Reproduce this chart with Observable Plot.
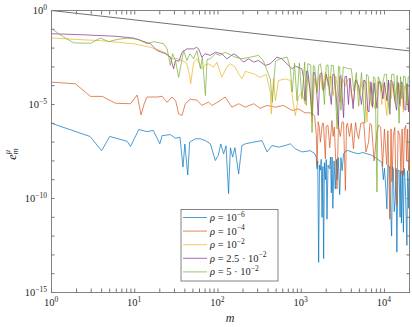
<!DOCTYPE html>
<html><head><meta charset="utf-8">
<script src="https://cdn.jsdelivr.net/npm/d3@7"></script>
<script src="https://cdn.jsdelivr.net/npm/@observablehq/plot@0.6"></script>
<style>body{margin:0;background:#fff}svg{display:block}</style>
</head><body><div id="chart"></div>
<script>
// ---- data: [m, e] pairs ----
const rho1e6 = [[1,1.0e-6],[2.9,2.0e-7],[4,3.5e-8],[5,2.0e-7],[8.1,1.1e-7],[8.9,5.9e-8],[11.2,4.7e-7],[14,3.6e-7],[16.7,4.2e-7],[20,8.1e-8],[21.3,2.2e-7],[26.8,2.5e-7],[30.8,1.6e-7],[35,1.8e-7],[38,4.7e-9],[40,7.9e-8],[43.3,1.8e-9],[45.7,1.0e-7],[53.5,1.5e-7],[61.5,1.5e-7],[70.6,1.2e-7],[81,8.1e-8],[93,1.05e-8],[101,2.0e-8],[108,7.9e-8],[117,2.4e-8],[125,6.3e-8],[134,1.8e-10],[141,5.0e-8],[150,1.6e-8],[160,5.0e-8],[177,2.0e-9],[194,6.6e-8],[213,8.1e-8],[269,1.0e-7],[338,1.2e-7],[389,3.0e-8],[445,6.6e-8],[535,5.4e-8],[645,6.6e-8],[740,8.1e-8],[850,4.4e-8],[1020,3.0e-8],[1285,3.5e-8],[1450,2.5e-8],[1520,1.5e-8],[1550,3.8e-9],[1580,1.0e-8],[1620,4.0e-14],[1660,6.0e-9],[1700,3.2e-9],[1740,1.2e-8],[1780,1.0e-11],[1820,5.0e-9],[1860,6.3e-14],[1900,8.0e-9],[1950,1.0e-9],[2000,1.2e-8],[2040,7.9e-12],[2100,6.0e-9],[2200,3.8e-9],[2250,1.6e-8],[2300,2.0e-10],[2350,1.6e-8],[2400,3.0e-11],[2480,1.0e-8],[2566,3.2e-10],[2650,1.2e-8],[2700,1.0e-9],[2780,1.5e-8],[2900,1.6e-10],[3000,1.5e-8],[3100,3.0e-9],[3230,2.4e-8],[3450,3.5e-8],[3700,3.5e-8],[4200,2.8e-8],[4890,2.4e-8],[5500,2.8e-8],[6170,2.4e-8],[7000,2.0e-8],[8130,1.3e-8],[8800,1.0e-8],[9330,8.5e-9],[9700,1.0e-9],[10000,4.0e-9],[10400,3.0e-10],[10700,2.8e-11],[11000,6.0e-9],[11500,5.0e-9],[11800,5.0e-11],[12200,1.0e-12],[12500,5.0e-9],[12800,3.8e-9],[13100,2.0e-11],[13500,1.0e-10],[13800,4.0e-9],[14100,1.4e-13],[14500,3.0e-9],[15000,3.2e-9],[15400,1.0e-11],[15700,3.0e-9],[16000,5.0e-12],[16400,3.0e-9],[16900,1.6e-12],[17200,4.0e-9],[17500,2.5e-9],[18000,1.0e-10],[18600,3.2e-13],[19000,3.0e-9],[19300,1.0e-9],[19600,3.0e-11],[20000,3.2e-9]];
const rho1e4 = [[1,1.55e-4],[1.94,1.26e-4],[2.94,2.7e-5],[4.06,2.7e-5],[5.87,1.17e-5],[8.9,1.1e-5],[10.7,3.2e-5],[11.9,2.8e-6],[13,1.1e-5],[14,2.5e-5],[18.6,2.5e-5],[21.3,2.75e-5],[24.5,1.3e-5],[28,2.5e-5],[31,1.6e-5],[33.7,3.2e-6],[37,2.6e-6],[40.5,1.1e-5],[46.5,1.9e-5],[56,1.7e-5],[64,8.9e-6],[77,1.35e-5],[85,8.9e-6],[106,1.6e-5],[122,2.5e-5],[147,7.2e-6],[177,1.1e-5],[213,7.2e-6],[269,1.1e-5],[320,6.3e-6],[389,8.9e-6],[490,7.2e-6],[610,8.9e-6],[780,4.8e-6],[925,5.9e-6],[1110,3.6e-6],[1285,3.6e-6],[1400,3.0e-6],[1450,2.5e-6],[1520,2.2e-7],[1550,5.8e-9],[1600,1.2e-6],[1650,6.3e-7],[1700,1.0e-7],[1750,3.4e-7],[1800,1.0e-6],[1850,1.0e-6],[1950,1.3e-8],[2000,7.0e-7],[2100,7.6e-7],[2200,5.0e-8],[2340,1.4e-6],[2420,2.0e-7],[2500,6.3e-7],[2600,1.0e-8],[2690,3.2e-10],[2800,7.9e-7],[2950,2.0e-7],[3100,1.2e-6],[3230,1.1e-6],[3300,3.0e-8],[3400,2.7e-10],[3500,8.0e-7],[3600,1.0e-6],[3800,2.0e-7],[4000,1.0e-6],[4240,4.4e-8],[4500,1.1e-6],[4700,3.0e-7],[4890,1.5e-7],[5200,1.0e-6],[5630,1.1e-6],[6000,3.0e-8],[6450,1.0e-7],[6700,1.0e-6],[7000,7.9e-7],[7500,1.0e-8],[8130,3.4e-7],[8500,8.0e-7],[9000,6.3e-7],[9500,5.0e-9],[10000,5.0e-7],[10400,3.0e-8],[10700,6.3e-9],[11000,4.0e-7],[11300,3.0e-9],[11600,7.9e-12],[12000,5.0e-7],[12300,7.9e-10],[12800,2.2e-7],[13300,6.0e-7],[13700,1.0e-9],[14100,4.3e-11],[14600,4.0e-7],[15300,2.2e-7],[15800,2.0e-9],[16300,5.0e-7],[16900,1.7e-9],[17400,5.0e-7],[18000,7.6e-7],[18500,1.0e-8],[19000,5.0e-7],[19500,3.0e-9],[20000,1.0e-7]];
const rho1e2 = [[1,0.035],[1.94,0.029],[3.87,0.025],[9.7,0.017],[15.4,0.011],[20.3,7.4e-3],[24.5,5.0e-3],[28,2.7e-3],[32,2.8e-3],[37,2.2e-3],[42,1.6e-3],[45.7,3.5e-4],[47,1.26e-4],[51,1.8e-3],[56,2.7e-3],[64,7.9e-4],[70,1.26e-3],[77,1.45e-3],[88.6,9.8e-4],[97,1.8e-3],[111,2.8e-4],[128,9.8e-4],[141,1.45e-3],[160,1.0e-3],[177,4.3e-4],[194,2.3e-4],[213,5.8e-4],[269,4.3e-4],[320,2.8e-4],[380,4.0e-4],[425,4.6e-5],[437,3.2e-6],[465,2.5e-4],[490,1.6e-5],[535,1.9e-4],[645,2.3e-4],[740,1.9e-4],[810,8.9e-6],[850,2.6e-6],[925,2.5e-5],[1020,4.6e-5],[1110,1.1e-5],[1200,3.2e-4],[1280,5.0e-5],[1350,1.15e-6],[1450,2.5e-4],[1550,4.0e-5],[1620,3.0e-4],[1700,3.5e-4],[1800,6.0e-5],[1950,5.2e-4],[2100,1.0e-4],[2200,3.2e-4],[2300,3.0e-4],[2420,3.0e-5],[2600,3.2e-4],[2750,6.0e-5],[2930,1.3e-5],[3100,2.5e-4],[3400,1.0e-4],[3600,2.0e-4],[3800,2.5e-4],[4000,3.0e-5],[4240,1.3e-5],[4500,2.0e-4],[4700,2.0e-4],[5000,3.0e-5],[5340,1.26e-4],[5700,2.0e-4],[6170,1.15e-6],[6500,1.6e-4],[6800,1.6e-4],[7200,2.0e-5],[7730,5.9e-6],[8200,1.6e-4],[8800,1.6e-4],[9300,1.0e-5],[9800,1.3e-4],[10300,1.0e-5],[10700,2.6e-6],[11100,1.3e-4],[11500,1.26e-4],[12000,2.0e-5],[12600,1.3e-4],[13400,2.0e-5],[14200,1.0e-4],[15000,1.26e-4],[15500,8.0e-6],[16000,1.0e-4],[16900,3.9e-6],[17500,1.0e-4],[18600,5.0e-5],[19300,5.0e-6],[20000,3.2e-5]];
const rho25e3 = [[1,0.058],[2.44,0.051],[6.15,0.042],[9.7,0.034],[15.4,0.017],[18.6,7.4e-3],[23.4,5.0e-3],[26.8,3.3e-3],[29.3,7.9e-4],[30.8,2.2e-3],[34,2.0e-3],[37,6.0e-3],[42.4,9.1e-3],[51,9.1e-3],[55,0.011],[58.6,9.1e-3],[64,3.3e-3],[70,5.0e-3],[81,4.1e-3],[93,6.0e-3],[111,5.0e-3],[128,2.7e-3],[155,5.0e-3],[177,3.3e-3],[203,1.8e-3],[233,2.7e-3],[269,1.8e-3],[306,2.2e-3],[370,1.2e-3],[425,1.45e-3],[510,3.3e-3],[585,2.7e-3],[675,1.45e-3],[780,7.9e-4],[850,1.1e-3],[1020,7.9e-4],[1060,3.0e-4],[1110,1.6e-5],[1160,6.0e-4],[1200,6.3e-4],[1280,5.0e-5],[1350,2.5e-6],[1400,5.0e-4],[1450,5.0e-4],[1520,1.0e-4],[1600,2.6e-6],[1680,4.0e-4],[1750,5.0e-4],[1850,5.0e-5],[2000,4.0e-4],[2150,1.0e-4],[2300,1.0e-5],[2400,4.0e-4],[2500,4.0e-4],[2650,2.0e-5],[2800,7.9e-7],[2900,3.0e-4],[3000,3.5e-4],[3100,3.0e-5],[3230,2.0e-6],[3350,3.0e-4],[3500,3.2e-4],[3700,1.0e-5],[3850,2.5e-4],[4000,6.3e-5],[4200,6.0e-6],[4500,2.0e-4],[4900,1.0e-4],[5300,1.0e-5],[5700,2.0e-4],[6000,1.6e-4],[6300,5.0e-6],[6500,4.0e-6],[6900,1.5e-4],[7200,7.0e-6],[7500,1.4e-4],[8130,6.3e-6],[8500,1.5e-4],[9000,1.6e-4],[9600,2.0e-5],[10000,1.5e-4],[10700,1.6e-5],[11200,2.0e-4],[11600,3.0e-6],[12000,2.0e-4],[12600,1.5e-4],[13200,2.0e-5],[14000,5.0e-6],[14600,1.5e-4],[15200,1.0e-5],[16000,1.6e-4],[16600,1.2e-4],[17200,6.0e-6],[18000,5.0e-6],[18600,1.3e-4],[19000,1.0e-4],[19500,4.0e-6],[20000,5.0e-5]];
const rho5e2 = [[1,0.107],[1.41,0.038],[1.85,0.019],[2.94,0.018],[3.87,0.034],[4.87,0.022],[6.15,0.029],[8.1,0.034],[11.2,0.029],[14,0.017],[16.9,0.022],[22.3,0.017],[24.5,9.1e-3],[26.8,1.2e-3],[28.5,5.0e-3],[30.8,2.2e-3],[33.7,2.8e-4],[38.7,7.4e-3],[42.4,2.2e-3],[46,5.0e-3],[51,2.7e-3],[56,7.4e-3],[61.5,7.9e-4],[65,3.2e-3],[70.6,3.0e-5],[74,2.5e-3],[81,2.7e-3],[93,5.0e-3],[106,4.1e-3],[122,6.0e-3],[162,3.3e-3],[194,2.7e-3],[245,3.3e-3],[306,4.1e-3],[350,2.2e-3],[425,2.3e-4],[450,1.3e-5],[490,2.0e-3],[560,2.7e-3],[680,3.3e-3],[740,7.9e-4],[780,4.6e-5],[830,1.6e-3],[890,1.6e-5],[950,1.6e-3],[1020,2.0e-5],[1100,1.8e-3],[1150,8.9e-6],[1200,1.5e-3],[1300,1.26e-3],[1350,3.2e-7],[1400,1.2e-3],[1450,1.0e-3],[1550,5.0e-5],[1620,1.2e-3],[1700,1.45e-3],[1800,3.0e-4],[1900,1.0e-5],[2000,1.2e-3],[2100,1.26e-3],[2180,3.0e-5],[2300,1.2e-3],[2420,1.2e-3],[2550,1.0e-4],[2700,5.0e-7],[2800,1.1e-3],[2900,1.0e-3],[3000,5.0e-6],[3200,1.0e-3],[3400,9.0e-4],[3700,8.0e-4],[4000,7.9e-4],[4300,5.0e-5],[4600,5.0e-4],[4900,8.0e-6],[5300,5.0e-4],[5800,1.0e-6],[6100,4.0e-4],[6400,3.2e-4],[6700,3.0e-5],[7000,8.9e-6],[7400,3.0e-4],[7730,2.5e-4],[8130,2.2e-10],[8400,3.0e-4],[8600,2.5e-4],[9200,5.0e-5],[10000,4.0e-4],[10600,4.0e-4],[11000,2.0e-5],[11500,3.2e-6],[12200,4.0e-4],[13000,4.0e-4],[13600,1.0e-5],[14200,3.5e-4],[15000,1.0e-6],[15600,3.0e-4],[16200,2.0e-5],[17000,3.2e-4],[17800,3.0e-4],[18600,1.0e-5],[19300,3.0e-4],[20000,2.8e-4]];
const refLine = [[1,1],[20000,7.07e-3]];

const seriesData = [rho1e6, rho1e4, rho1e2, rho25e3, rho5e2];
const seriesColors = ["#0072BD","#D95319","#EDB120","#7E2F8E","#77AC30"];
const legendPrefix = ["ρ", "ρ", "ρ", "ρ", "ρ"];
const legendMantissa = ["10", "10", "10", "2.5 · 10", "5 · 10"];
const legendExponent = ["−6", "−4", "−2", "−2", "−2"];

const xMajor = [1, 10, 100, 1000, 10000];
const xMajorExp = ["0", "1", "2", "3", "4"];
const xTicks = [1,2,3,4,5,6,7,8,9,10,20,30,40,50,60,70,80,90,100,200,300,400,500,600,700,800,900,1000,2000,3000,4000,5000,6000,7000,8000,9000,10000,20000];
const yTicks = [1e-15,1e-14,1e-13,1e-12,1e-11,1e-10,1e-9,1e-8,1e-7,1e-6,1e-5,1e-4,1e-3,1e-2,1e-1,1];
const yMajor = [1, 1e-5, 1e-10, 1e-15];
const yMajorExp = ["0", "−5", "−10", "−15"];

const FONT = "'Liberation Serif','Times New Roman',serif";
const AX = "#777";

const lineMarks = seriesData.map((d, i) => Plot.line(d, {x: r => r[0], y: r => r[1], stroke: seriesColors[i], strokeWidth: 0.7, clip: true}));

const chart = Plot.plot({
  width: 412, height: 327,
  marginLeft: 51, marginRight: 3, marginTop: 10, marginBottom: 35,
  style: {background: "#fff", fontFamily: FONT},
  x: {type: "log", domain: [1, 20000]},
  y: {type: "log", domain: [1e-15, 1]},
  marks: [
    Plot.line(refLine, {x: r => r[0], y: r => r[1], stroke: "#333", strokeWidth: 0.7}),
    ...lineMarks,
    Plot.frame({stroke: AX, strokeWidth: 0.9}),
    Plot.axisX(xTicks, {anchor: "bottom", tickSize: 3.5, dy: -3.5, stroke: AX, tickFormat: () => "", label: null}),
    Plot.axisX(xTicks, {anchor: "top", tickSize: 3.5, dy: 3.5, stroke: AX, tickFormat: () => "", label: null}),
    Plot.axisY(yTicks, {anchor: "left", tickSize: 3.5, dx: 3.5, stroke: AX, tickFormat: () => "", label: null}),
    Plot.axisY(yTicks, {anchor: "right", tickSize: 3.5, dx: -3.5, stroke: AX, tickFormat: () => "", label: null})
  ]
});
document.getElementById("chart").appendChild(chart);

const sx = chart.scale("x"), sy = chart.scale("y");
const svg = d3.select(chart);
const g = svg.append("g").attr("font-family", FONT).attr("fill", "#262626");

// x tick labels
xMajor.forEach((v, i) => {
  const t = g.append("text").attr("x", sx.apply(v)).attr("y", 306).attr("text-anchor", "middle").attr("font-size", 10.5);
  t.append("tspan").text("10");
  t.append("tspan").attr("dy", -4.5).attr("font-size", 7.5).text(xMajorExp[i]);
});
// y tick labels
yMajor.forEach((v, i) => {
  const t = g.append("text").attr("x", 47).attr("y", sy.apply(v) + 4).attr("text-anchor", "end").attr("font-size", 10.5);
  t.append("tspan").text("10");
  t.append("tspan").attr("dy", -4.5).attr("font-size", 7.5).text(yMajorExp[i]);
});
// axis labels
g.append("text").attr("x", 230).attr("y", 322).attr("text-anchor", "middle").attr("font-size", 12).attr("font-style", "italic").text("m");
const yl = g.append("text").attr("transform", "translate(15.5,154) rotate(-90)").attr("text-anchor", "middle").attr("font-size", 12).attr("font-style", "italic");
yl.append("tspan").text("e");
yl.append("tspan").attr("dy", 2.5).attr("font-size", 8.5).text("m");
yl.append("tspan").attr("dx", -6).attr("dy", -8).attr("font-size", 8.5).text("μ");

// legend
const lg = svg.append("g").attr("font-family", FONT);
lg.append("rect").attr("x", 181).attr("y", 209.5).attr("width", 97).attr("height", 71.5).attr("fill", "#fff").attr("stroke", AX).attr("stroke-width", 0.9);
seriesColors.forEach((c, i) => {
  const y = 217.5 + i * 13.6;
  lg.append("line").attr("x1", 183).attr("x2", 207).attr("y1", y).attr("y2", y).attr("stroke", c).attr("stroke-width", 0.7);
  const t = lg.append("text").attr("x", 210).attr("y", y + 3.5).attr("text-anchor", "start").attr("font-size", 10.5).attr("fill", "#262626");
  t.append("tspan").attr("font-style", "italic").text(legendPrefix[i]);
  t.append("tspan").text(" = " + legendMantissa[i]);
  t.append("tspan").attr("dy", -4.5).attr("font-size", 7.5).text(legendExponent[i]);
});
</script>
</body></html>
